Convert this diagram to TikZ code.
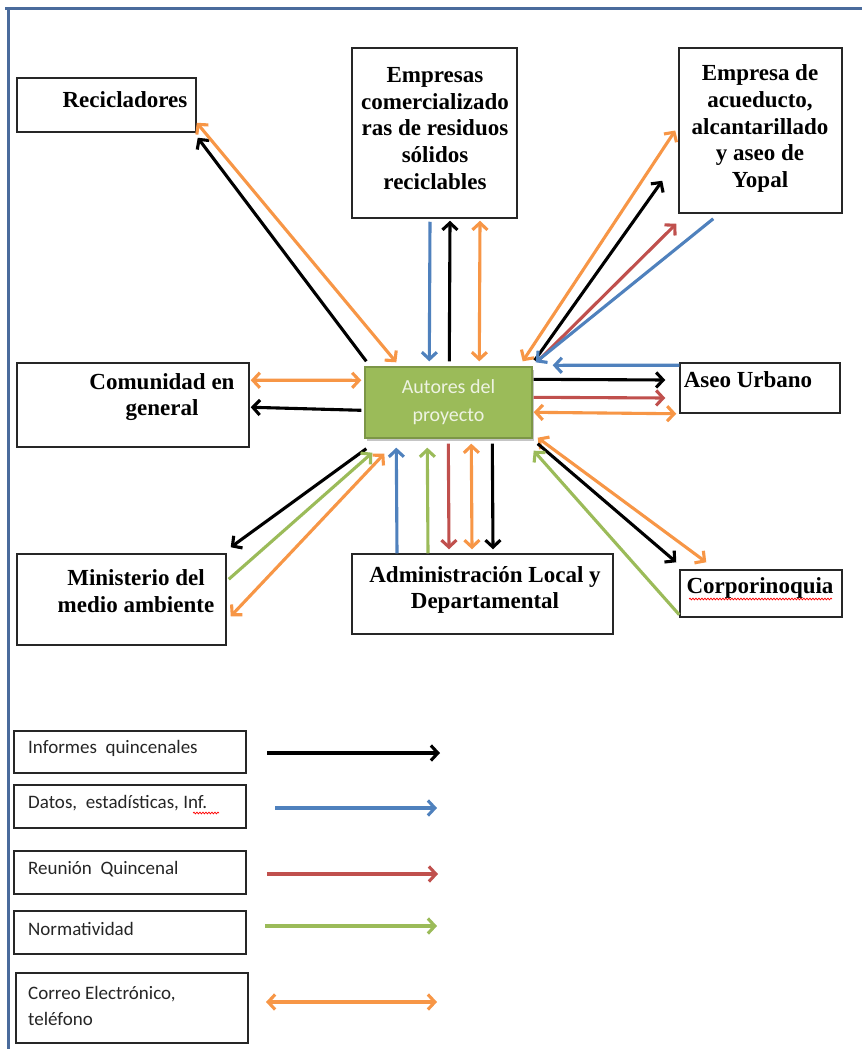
\documentclass[tikz,border=0pt]{standalone}
\usepackage{fontspec}
\setmainfont{Liberation Serif}
\newfontfamily\calfont{Carlito}
\usetikzlibrary{arrows.meta,calc,shadows,decorations.pathmorphing}
\definecolor{cBl}{HTML}{4F81BD}
\definecolor{cRd}{HTML}{C0504D}
\definecolor{cGr}{HTML}{9BBB59}
\definecolor{cOr}{HTML}{F79646}
\definecolor{cFrame}{HTML}{4A6B9C}
\definecolor{cAuthTxt}{HTML}{EEF3E2}
\tikzset{
  box/.style={draw=black!85, line width=1.5pt, fill=white, inner sep=0pt},
  authbox/.style={draw=cGr!80!black, line width=1.4pt, fill=cGr, inner sep=0pt,
     drop shadow={shadow xshift=1.5pt, shadow yshift=-3pt, opacity=0.45},
     font=\calfont\fontsize{20}{28}\selectfont, text=cAuthTxt, align=center},
  lab/.style={font=\bfseries\fontsize{23}{26.7}\selectfont, align=center, inner sep=0pt},
  leg/.style={font=\calfont\fontsize{19}{26}\selectfont, text=black!85, anchor=west, align=left, inner sep=0pt},
  one/.style={line width=3.1pt, -{Straight Barb[length=7pt,width=15pt]}},
  bi/.style={line width=3.1pt, {Straight Barb[length=7pt,width=15pt]}-{Straight Barb[length=7pt,width=15pt]}},
  wavy/.style={draw=red, line width=0.7pt, decorate, decoration={snake, amplitude=0.9pt, segment length=3pt}}
}
\begin{document}
\begin{tikzpicture}[x=1pt,y=-1pt]
\useasboundingbox (0,0) rectangle (862,1049);
\fill[white] (0,0) rectangle (862,1049);
% frame
\draw[cFrame, line width=3pt] (5,9) -- (862,9);
\draw[cFrame, line width=3pt] (8,9) -- (8,1049);

% boxes
\node[box, minimum width=179pt, minimum height=54pt] (rec) at (106.5,105) {};
\node[lab] (recT) at (125,100) {Recicladores};

\node[box, minimum width=165pt, minimum height=170pt] (emp) at (434.5,133) {};
\node[lab] (empT) at (435,128.5) {Empresas\\comercializado\\ras de residuos\\sólidos\\reciclables};

\node[box, minimum width=163pt, minimum height=165pt] (acu) at (760.5,130.5) {};
\node[lab] (acuT) at (760,128.5) {Empresa de\\acueducto,\\alcantarillado\\y aseo de\\Yopal};

\node[box, minimum width=232pt, minimum height=84pt] (com) at (133,405) {};
\node[lab] (comT) at (162,397) {Comunidad en\\general};

\node[authbox, minimum width=167pt, minimum height=71pt] (auth) at (448.5,402.5) {Autores del\\proyecto};

\node[box, minimum width=160pt, minimum height=50pt] (aseo) at (760,388) {};
\node[lab] (aseoT) at (748,380) {Aseo Urbano};

\node[box, minimum width=209pt, minimum height=91pt] (min) at (121.5,599.5) {};
\node[lab] (minT) at (136,591) {Ministerio del\\medio ambiente};

\node[box, minimum width=261pt, minimum height=80pt] (adm) at (482.5,594) {};
\node[lab] (admT) at (485,590) {Administración Local y\\Departamental};

\node[box, minimum width=162pt, minimum height=47pt] (corp) at (761,593.5) {};
\node[lab] (corpT) at (760,588) {Corporinoquia};
\draw[wavy] (689,599) -- (832,599);

% Recicladores
\draw[one] ($(auth.north west)+(2,-5)$) -- ($(rec.south east)+(1,5)$);
\draw[bi,cOr] ($(auth.north west)+(32,-4)$) -- ($(rec.south east)+(0,-10)$);
% Empresas comercializadoras
\draw[one,cBl] ($(emp.south)+(-4.5,3)$) -- ($(auth.north west)+(65,-5)$);
\draw[one] ($(auth.north west)+(85,-5)$) -- ($(emp.south)+(15.5,2)$);
\draw[bi,cOr] ($(auth.north west)+(115,-5)$) -- ($(emp.south)+(45.5,2)$);
% Acueducto
\draw[bi,cOr] ($(auth.north east)+(-10,-5)$) -- ($(acu.west)+(-3,0)$);
\draw[one] ($(auth.north east)+(2,-6)$) -- ($(acu.south west)+(-16,-33)$);
\draw[one,cRd] ($(auth.north east)+(5,-5)$) -- ($(acu.south west)+(-2,10)$);
\draw[one,cBl] ($(acu.south west)+(35,5)$) -- ($(auth.north east)+(3,-4)$);
% Aseo Urbano
\draw[one,cBl] ($(aseo.north west)+(0,3)$) -- ($(auth.north east)+(20,-1)$);
\draw[one] ($(auth.north east)+(1,13)$) -- ($(aseo.west)+(-14,-8)$);
\draw[one,cRd] ($(auth.north east)+(1,31)$) -- ($(aseo.west)+(-14,10)$);
\draw[bi,cOr] ($(auth.north east)+(1,46)$) -- ($(aseo.south west)+(-3,0)$);
% Corporinoquia
\draw[bi,cOr] ($(auth.south east)+(5,-1)$) -- ($(corp.north west)+(27,-7)$);
\draw[one] ($(auth.south east)+(5,5)$) -- ($(corp.north west)+(-3,-7)$);
\draw[one,cGr] ($(corp.south west)+(0,-3)$) -- ($(auth.south east)+(1,12)$);
% Administracion
\draw[one,cBl] ($(adm.north)+(-85.5,0)$) -- ($(auth.south west)+(32,9)$);
\draw[one,cGr] ($(adm.north)+(-54.5,0)$) -- ($(auth.south west)+(63,9)$);
\draw[one,cRd] ($(auth.south west)+(84,5)$) -- ($(adm.north)+(-33.5,-4)$);
\draw[bi,cOr] ($(auth.south west)+(107,5)$) -- ($(adm.north)+(-10.5,-4)$);
\draw[one] ($(auth.south west)+(128,5)$) -- ($(adm.north)+(10.5,-4)$);
% Ministerio
\draw[one] ($(auth.south west)+(2,10)$) -- ($(min.north east)+(4,-6)$);
\draw[one,cGr] ($(min.north east)+(2,26)$) -- ($(auth.south west)+(8,14)$);
\draw[bi,cOr] ($(min.north east)+(4,63)$) -- ($(auth.south west)+(20,15)$);
% Comunidad
\draw[bi,cOr] ($(com.north east)+(1,18)$) -- ($(auth.north west)+(-3,14)$);
\draw[one] ($(auth.north west)+(-3,44)$) -- ($(com.north east)+(1,45)$);

% legend
\node[box, minimum width=232pt, minimum height=42pt] (l1) at (130,752) {};
\node[leg] (l1T) at (28,748) {Informes\ \ quincenales};
\node[box, minimum width=232pt, minimum height=43pt] (l2) at (130,806.5) {};
\node[leg] (l2T) at (28,803) {Datos,\ \ estadísticas, Inf.};
\draw[wavy] (193,813) -- (219,813);
\node[box, minimum width=232pt, minimum height=43pt] (l3) at (130,872.5) {};
\node[leg] (l3T) at (28,869) {Reunión\ \ Quincenal};
\node[box, minimum width=232pt, minimum height=43pt] (l4) at (130,932.5) {};
\node[leg] (l4T) at (28,929) {Normatividad};
\node[box, minimum width=232pt, minimum height=70pt] (l5) at (132,1008) {};
\node[leg] (l5T) at (28,1006) {Correo Electrónico,\\teléfono};

\coordinate (k1a) at (267,753); \coordinate (k1b) at (440,753);
\coordinate (k2a) at (275,808); \coordinate (k2b) at (437,808);
\coordinate (k3a) at (267,874); \coordinate (k3b) at (438,874);
\coordinate (k4a) at (265,926); \coordinate (k4b) at (437,926);
\coordinate (k5a) at (266,1002); \coordinate (k5b) at (437,1002);
\draw[one] (k1a) -- (k1b);
\draw[one,cBl] (k2a) -- (k2b);
\draw[one,cRd] (k3a) -- (k3b);
\draw[one,cGr] (k4a) -- (k4b);
\draw[bi,cOr] (k5a) -- (k5b);
\end{tikzpicture}
\end{document}
